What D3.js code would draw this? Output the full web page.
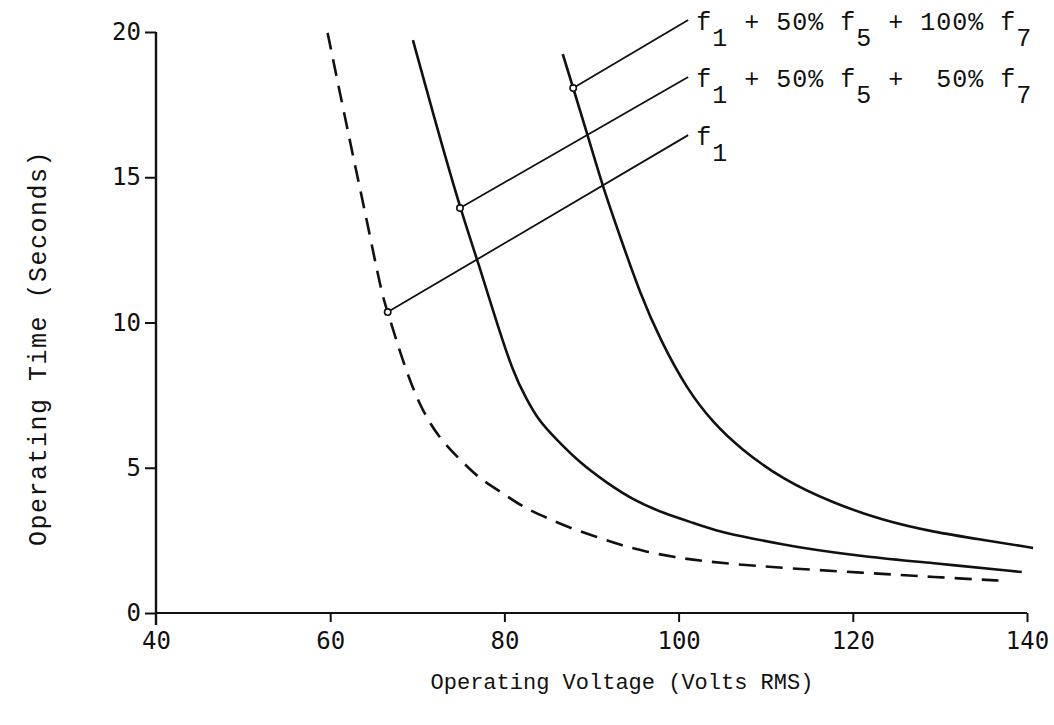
<!DOCTYPE html>
<html>
<head>
<meta charset="utf-8">
<script src="https://cdn.jsdelivr.net/npm/d3@7.9.0/dist/d3.min.js"></script>
<style>
  body { margin: 0; background: #fff; }
  svg { display: block; }
  .tick text { font-family: "DejaVu Sans Mono", monospace; font-size: 24px; fill: #111; }
  .title { font-family: "Liberation Mono", "Courier New", monospace; fill: #111; }
  .note { font-family: "Liberation Mono", "Courier New", monospace; font-size: 25px; fill: #111; white-space: pre; }
</style>
</head>
<body>
<div id="chart"></div>
<script>
// axis ticks
const xTicks = [40, 60, 80, 100, 120, 140];
const yTicks = [0, 5, 10, 15, 20];

// curves, [volts, seconds]
const fundamental = [
  [59.7, 19.97], [62.3, 16.18], [64.2, 13.53], [65.9, 11.0], [66.6, 10.36],
  [68.4, 8.6], [70.3, 7.1], [72.6, 5.96], [75.7, 5.05], [77.2, 4.62],
  [79.8, 4.13], [82.1, 3.65], [84.9, 3.27], [87.5, 2.93], [90.6, 2.62],
  [93.3, 2.34], [96.4, 2.10], [99.4, 1.93], [102.5, 1.79], [110.1, 1.58],
  [121.6, 1.38], [129.2, 1.24], [137.8, 1.1]
];
const harm50 = [
  [69.5, 19.72], [71.8, 17.2], [74.9, 13.94], [76.9, 12.15], [78.7, 10.4],
  [81.0, 8.26], [82.6, 7.33], [83.9, 6.64], [86.0, 5.96], [88.7, 5.16],
  [91.8, 4.47], [94.8, 3.89], [98.2, 3.44], [101.7, 3.10], [104.8, 2.79],
  [108.2, 2.58], [113.9, 2.24], [121.6, 1.93], [129.2, 1.72], [139.4, 1.41]
];
const harm100 = [
  [86.7, 19.24], [87.9, 18.07], [89.5, 16.5], [91.3, 14.67], [93.3, 12.94],
  [95.6, 10.98], [97.9, 9.4], [101.0, 7.68], [104.0, 6.54], [107.0, 5.68],
  [112.0, 4.58], [117.7, 3.79], [123.5, 3.18], [129.2, 2.79], [134.9, 2.52],
  [140.7, 2.24]
];

// callouts: point on curve -> end of leader line
const markerPts = [[66.6, 10.36], [74.9, 13.94], [87.9, 18.07]];
const leaderEnds = [[101.1, 16.45], [101.1, 18.45], [101.1, 20.41]];
const noteParts = [
  [["f", 0], ["1", 1]],
  [["f", 0], ["1", 1], [" + 50% ", 0], ["f", 0], ["5", 1], [" +  50% ", 0], ["f", 0], ["7", 1]],
  [["f", 0], ["1", 1], [" + 50% ", 0], ["f", 0], ["5", 1], [" + 100% ", 0], ["f", 0], ["7", 1]]
];

const W = 1054, H = 725;
const margin = { top: 32, right: 27, bottom: 112, left: 156 };
const innerW = W - margin.left - margin.right;
const innerH = H - margin.top - margin.bottom;

const svg = d3.select("#chart").append("svg")
  .attr("width", W)
  .attr("height", H);

const g = svg.append("g")
  .attr("transform", `translate(${margin.left},${margin.top})`);

const x = d3.scaleLinear().domain([40, 140]).range([0, innerW]);
const y = d3.scaleLinear().domain([0, 20]).range([innerH, 0]);

// x axis
const xAxisG = g.append("g")
  .attr("transform", `translate(0,${innerH})`)
  .call(d3.axisBottom(x).tickValues(xTicks).tickSize(9).tickSizeOuter(0).tickPadding(10));
xAxisG.select(".domain").remove();
xAxisG.selectAll(".tick line").attr("stroke", "#111").attr("stroke-width", 2)
  .filter(d => d === 40).remove();
xAxisG.append("line")
  .attr("x1", x(40)).attr("x2", x(140))
  .attr("stroke", "#111").attr("stroke-width", 2.2);

// y axis
const yAxisG = g.append("g")
  .call(d3.axisLeft(y).tickValues(yTicks).tickSize(11).tickSizeOuter(0).tickPadding(4));
yAxisG.select(".domain").remove();
yAxisG.selectAll(".tick line").attr("stroke", "#111").attr("stroke-width", 2);
yAxisG.append("line")
  .attr("y1", y(20)).attr("y2", y(0) + 12)
  .attr("stroke", "#111").attr("stroke-width", 2.4);

// titles
svg.append("text")
  .attr("class", "title")
  .attr("x", 622)
  .attr("y", 689)
  .attr("font-size", 22)
  .attr("text-anchor", "middle")
  .text("Operating Voltage (Volts RMS)");

svg.append("text")
  .attr("class", "title")
  .attr("transform", "translate(46,348) rotate(-90)")
  .attr("font-size", 25)
  .attr("letter-spacing", 1.5)
  .attr("text-anchor", "middle")
  .text("Operating Time (Seconds)");

// curves
const line = d3.line()
  .x(d => x(d[0]))
  .y(d => y(d[1]))
  .curve(d3.curveBasis);

g.append("path")
  .datum(fundamental)
  .attr("d", line)
  .attr("fill", "none")
  .attr("stroke", "#111")
  .attr("stroke-width", 2.6)
  .attr("stroke-dasharray", "17 10");

[harm50, harm100].forEach(data => {
  g.append("path")
    .datum(data)
    .attr("d", line)
    .attr("fill", "none")
    .attr("stroke", "#111")
    .attr("stroke-width", 2.6);
});

// leader lines and labels
markerPts.forEach((p, i) => {
  const e = leaderEnds[i];
  g.append("line")
    .attr("x1", x(p[0])).attr("y1", y(p[1]))
    .attr("x2", x(e[0])).attr("y2", y(e[1]))
    .attr("stroke", "#111").attr("stroke-width", 1.8);

  g.append("circle")
    .attr("cx", x(p[0])).attr("cy", y(p[1]))
    .attr("r", 3.2)
    .attr("fill", "#fff")
    .attr("stroke", "#111")
    .attr("stroke-width", 1.6);

  const t = g.append("text")
    .attr("class", "note")
    .attr("x", x(e[0]) + 8)
    .attr("y", y(e[1]) + 10)
    .attr("letter-spacing", 1);

  let shifted = 0;
  noteParts[i].forEach(([s, sub]) => {
    const dy = sub ? 16 - shifted : -shifted;
    shifted = sub ? 16 : 0;
    t.append("tspan").attr("dy", dy).text(s);
  });
});
</script>
</body>
</html>
